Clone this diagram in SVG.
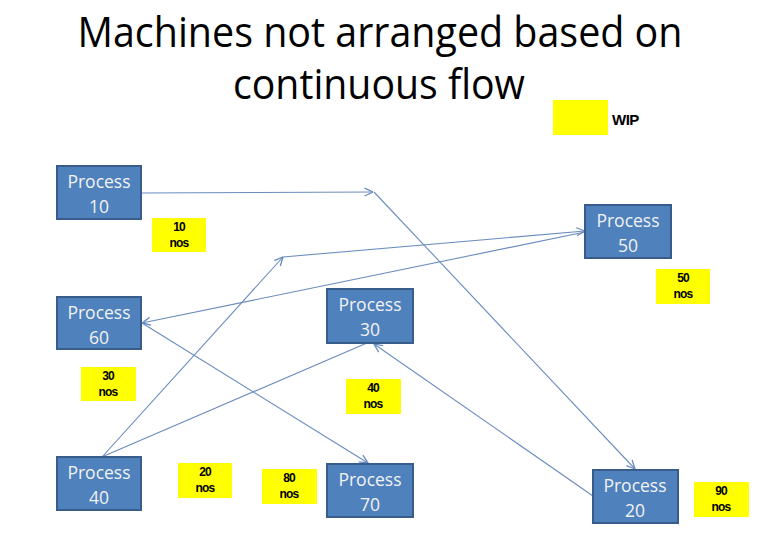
<svg xmlns="http://www.w3.org/2000/svg" width="768" height="547" viewBox="0 0 768 547">
<defs>
<marker id="arr" viewBox="0 0 10 10" refX="9.5" refY="5" markerWidth="10" markerHeight="10" markerUnits="userSpaceOnUse" orient="auto">
<path d="M1,1 L9.5,5 L1,9" fill="none" stroke="#6a8cbf" stroke-width="1.3"/>
</marker>
<style>
.proc rect{fill:#4f81bd;stroke:#385d8a;stroke-width:2}
.proc text{font-family:"Open Sans","Liberation Sans",sans-serif;font-size:17.5px;fill:#f2f2f2;text-anchor:middle}
.wip rect{fill:#ffff00;stroke:none}
.wip text{font-family:"Liberation Sans",Arial,sans-serif;font-weight:bold;font-size:12px;fill:#000;text-anchor:middle;letter-spacing:-0.8px}
.title{font-family:"Open Sans","Liberation Sans",sans-serif;font-size:42px;fill:#000;text-anchor:middle}
.conn line{stroke:#6a8cbf;stroke-width:1.1;fill:none}
</style>
</defs>
<rect width="768" height="547" fill="#fff"/>
<g id="title">
<text class="title" x="380" y="47" textLength="605" lengthAdjust="spacingAndGlyphs">Machines not arranged based on</text>
<text class="title" x="379" y="99" textLength="292" lengthAdjust="spacingAndGlyphs">continuous flow</text>
</g>
<g id="legend" class="wip">
<rect x="553" y="100" width="55" height="35"/>
<text x="612" y="125" style="font-size:15px;text-anchor:start;letter-spacing:-0.5px">WIP</text>
</g>
<g id="connectors" class="conn">
<line x1="141" y1="193" x2="373" y2="192" marker-end="url(#arr)"/>
<line x1="374" y1="192" x2="635" y2="469" marker-end="url(#arr)"/>
<line x1="102" y1="457" x2="283" y2="257" marker-end="url(#arr)"/>
<line x1="283" y1="257" x2="585" y2="231" marker-end="url(#arr)"/>
<line x1="585" y1="232" x2="142" y2="323" marker-end="url(#arr)"/>
<line x1="142" y1="323" x2="368" y2="463" marker-end="url(#arr)"/>
<line x1="104" y1="456" x2="367" y2="343"/>
<line x1="593" y1="496" x2="374" y2="344" marker-end="url(#arr)"/>
</g>
<g id="p10" class="proc"><rect x="57" y="166" width="84" height="53"/><text x="99" y="188">Process</text><text x="99" y="213">10</text></g>
<g id="p60" class="proc"><rect x="57" y="297" width="84" height="52"/><text x="99" y="319">Process</text><text x="99" y="344">60</text></g>
<g id="p30" class="proc"><rect x="327" y="289" width="86" height="54"/><text x="370" y="311">Process</text><text x="370" y="336">30</text></g>
<g id="p50" class="proc"><rect x="585" y="205" width="86" height="53"/><text x="628" y="227">Process</text><text x="628" y="252">50</text></g>
<g id="p40" class="proc"><rect x="57" y="457" width="84" height="53"/><text x="99" y="479">Process</text><text x="99" y="504">40</text></g>
<g id="p70" class="proc"><rect x="327" y="464" width="86" height="53"/><text x="370" y="486">Process</text><text x="370" y="511">70</text></g>
<g id="p20" class="proc"><rect x="593" y="470" width="85" height="53"/><text x="635" y="492">Process</text><text x="635" y="517">20</text></g>
<g id="w10" class="wip"><rect x="152" y="218" width="54" height="34"/><text x="179" y="231">10</text><text x="179" y="247">nos</text></g>
<g id="w50" class="wip"><rect x="656" y="269" width="54" height="35"/><text x="683" y="282">50</text><text x="683" y="298">nos</text></g>
<g id="w30" class="wip"><rect x="81" y="367" width="55" height="34"/><text x="108" y="380">30</text><text x="108" y="396">nos</text></g>
<g id="w40" class="wip"><rect x="346" y="379" width="55" height="35"/><text x="373" y="392">40</text><text x="373" y="408">nos</text></g>
<g id="w20" class="wip"><rect x="178" y="463" width="54" height="35"/><text x="205" y="476">20</text><text x="205" y="492">nos</text></g>
<g id="w80" class="wip"><rect x="262" y="469" width="55" height="35"/><text x="289" y="482">80</text><text x="289" y="498">nos</text></g>
<g id="w90" class="wip"><rect x="694" y="482" width="55" height="35"/><text x="721" y="495">90</text><text x="721" y="511">nos</text></g>
</svg>
